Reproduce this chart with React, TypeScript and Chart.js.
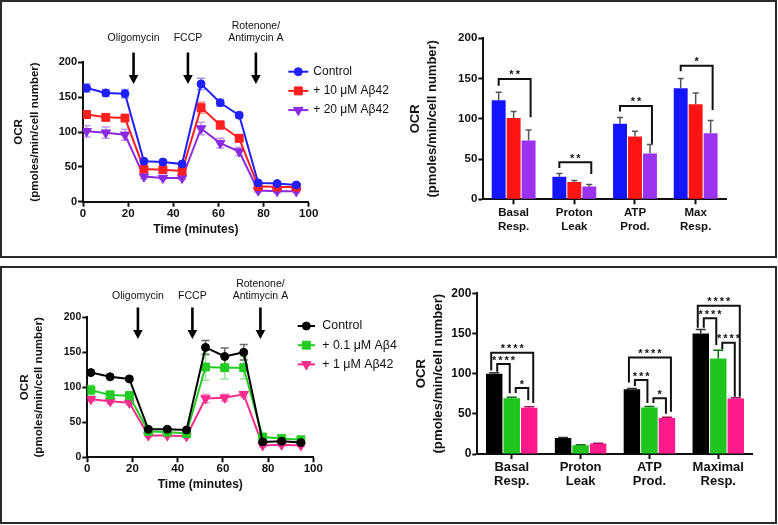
import React, { useEffect, useRef } from 'react';
import { Chart, registerables } from 'chart.js';
import { drawPoint } from 'chart.js/helpers';

Chart.register(...registerables);

const FONT = "'Liberation Sans', Arial, Helvetica, sans-serif";
const INK = '#111';
Chart.defaults.font.family = FONT;
Chart.defaults.color = INK;

// ---------------- shared axis data ----------------
const timeMinutes = [1.6, 10.1, 18.6, 27.0, 35.4, 43.9, 52.3, 60.8, 69.2, 77.6, 86.0, 94.5];
const timeTicks = [0, 20, 40, 60, 80, 100];
const ocrTicks = [0, 50, 100, 150, 200];
const injections = [22.4, 46.5, 76.6];
const injectionLabels = [['Oligomycin'], ['FCCP'], ['Rotenone/', 'Antimycin A']];
const ocrTitle = ['OCR', '(pmoles/min/cell number)'];

// ---------------- top-left: trace ----------------
const topSeriesLabels = ['Control', '+ 10 μM Aβ42', '+ 20 μM Aβ42'];
const topControl = [163, 156, 155, 58, 57, 54, 169, 142, 124, 27, 26, 24];
const topControlErr = [6, 5, 6, 2, 2, 2, 8, 5, 4, 2, 1.5, 1.5];
const top10uM = [125, 121, 120, 47, 46, 44, 135, 110, 91, 22, 21, 21];
const top10uMErr = [5, 4, 4, 3, 3, 3, 8, 6, 5, 2, 1.5, 1.5];
const top20uM = [101, 99, 96, 36, 34, 34, 105, 84, 72, 16, 15, 15];
const top20uMErr = [8, 8, 8, 3, 2, 2, 9, 7, 6, 2, 2, 2];

// ---------------- top-right: bars ----------------
const topCategories = [['Basal', 'Resp.'], ['Proton', 'Leak'], ['ATP', 'Prod.'], ['Max', 'Resp.']];
const topBarControl = [123, 28, 94, 138];
const topBarControlErr = [10, 4, 7.5, 12];
const topBar10uM = [101, 21.5, 78, 118];
const topBar10uMErr = [8, 2, 6.5, 14];
const topBar20uM = [73, 16, 57, 82];
const topBar20uMErr = [13, 2.5, 11, 16];
const topBrackets = [
  { cat: 0, from: 0, to: 2, top: 149.5, left: 141, right: 102, text: '**' },
  { cat: 1, from: 0, to: 2, top: 46, left: 39, right: 31.5, text: '**' },
  { cat: 2, from: 0, to: 2, top: 116, left: 109, right: 69, text: '**' },
  { cat: 3, from: 0, to: 2, top: 166, left: 159, right: 111, text: '*' },
];

// ---------------- bottom-left: trace ----------------
const botSeriesLabels = ['Control', '+ 0.1 μM Aβ4', '+ 1 μM Aβ42'];
const botControl = [121, 115, 112, 40, 40, 39, 157, 144, 150, 22, 23, 21];
const botControlErr = [2, 2, 2, 2, 2, 2, 10, 12, 11, 2, 2, 2];
const bot01uM = [96, 89, 88, 37, 36, 34, 129, 128, 128, 29, 27, 25];
const bot01uMErr = [7, 6, 6, 3, 3, 3, 19, 16, 16, 3, 2, 2];
const bot1uM = [83, 80, 78, 31, 31, 30, 84, 85, 90, 17, 18, 17];
const bot1uMErr = [3, 3, 3, 2, 2, 2, 6, 5, 4, 2, 2, 2];

// ---------------- bottom-right: bars ----------------
const botCategories = [['Basal', 'Resp.'], ['Proton', 'Leak'], ['ATP', 'Prod.'], ['Maximal', 'Resp.']];
const botBarControl = [100, 20, 80.5, 150];
const botBarControlErr = [1, 0.5, 1, 5];
const botBar01uM = [69.5, 11, 58, 119];
const botBar01uMErr = [1, 0.5, 1, 10];
const botBar1uM = [57.7, 13, 44.8, 69];
const botBar1uMErr = [1, 0.5, 1, 1];
const botBrackets = [
  { cat: 0, from: 0, to: 2, top: 126, left: 104, right: 63.5, text: '****' },
  { cat: 0, from: 0, to: 1, top: 112, left: 102.5, right: 75.5, text: '****' },
  { cat: 0, from: 1, to: 2, top: 82, left: 76, right: 67, text: '*' },
  { cat: 2, from: 0, to: 2, top: 120, left: 89, right: 52.6, text: '****' },
  { cat: 2, from: 0, to: 1, top: 92, left: 84.6, right: 63.5, text: '***' },
  { cat: 2, from: 1, to: 2, top: 69.3, left: 63.5, right: 50, text: '*' },
  { cat: 3, from: 0, to: 2, top: 184.6, left: 157, right: 71.3, text: '****' },
  { cat: 3, from: 0, to: 1, top: 169, left: 157, right: 135.7, text: '****' },
  { cat: 3, from: 1, to: 2, top: 138.5, left: 130.3, right: 71.3, text: '****' },
];

// ---------------- plugins ----------------
const lineErrorPlugin = {
  id: 'lineErrors',
  beforeDatasetsDraw(chart: any) {
    const { ctx } = chart;
    const yS = chart.scales.y;
    chart.data.datasets.forEach((ds: any, i: number) => {
      if (!ds.errors) return;
      const meta = chart.getDatasetMeta(i);
      ctx.save();
      ctx.strokeStyle = ds.errorColor;
      ctx.lineWidth = 1.5;
      const cap = 4;
      meta.data.forEach((pt: any, j: number) => {
        const v = ds.data[j].y;
        const e = ds.errors[j];
        const y1 = yS.getPixelForValue(v + e);
        const y2 = yS.getPixelForValue(v - e);
        ctx.beginPath();
        ctx.moveTo(pt.x, y1); ctx.lineTo(pt.x, y2);
        ctx.moveTo(pt.x - cap, y1); ctx.lineTo(pt.x + cap, y1);
        ctx.moveTo(pt.x - cap, y2); ctx.lineTo(pt.x + cap, y2);
        ctx.stroke();
      });
      ctx.restore();
    });
  },
};

function makeBarErrorPlugin(cap: number) {
  return {
    id: 'barErrors',
    afterDatasetsDraw(chart: any) {
      const { ctx } = chart;
      const yS = chart.scales.y;
      chart.data.datasets.forEach((ds: any, i: number) => {
        if (!ds.errors) return;
        const meta = chart.getDatasetMeta(i);
        ctx.save();
        ctx.strokeStyle = ds.errorColor;
        ctx.lineWidth = 1.5;
        meta.data.forEach((bar: any, j: number) => {
          const yTop = yS.getPixelForValue(ds.data[j] + ds.errors[j]);
          ctx.beginPath();
          ctx.moveTo(bar.x, bar.y); ctx.lineTo(bar.x, yTop);
          ctx.moveTo(bar.x - cap, yTop); ctx.lineTo(bar.x + cap, yTop);
          ctx.stroke();
        });
        ctx.restore();
      });
    },
  };
}

function makeBracketPlugin(items: any[], offsets: any) {
  return {
    id: 'brackets',
    afterDatasetsDraw(chart: any) {
      const { ctx } = chart;
      const yS = chart.scales.y;
      ctx.save();
      ctx.strokeStyle = INK;
      ctx.fillStyle = INK;
      ctx.lineWidth = 2;
      ctx.font = `bold 11px ${FONT}`;
      (ctx as any).letterSpacing = '2px';
      ctx.textAlign = 'center';
      ctx.textBaseline = 'alphabetic';
      items.forEach((b) => {
        const key = b.from === 0 && b.to === 2 ? 'outer' : b.from === 0 ? 'near' : 'far';
        const off = offsets[key];
        const xa = chart.getDatasetMeta(b.from).data[b.cat].x + off[0];
        const xb = chart.getDatasetMeta(b.to).data[b.cat].x + off[1];
        const yt = yS.getPixelForValue(b.top);
        ctx.beginPath();
        ctx.moveTo(xa, yS.getPixelForValue(b.left));
        ctx.lineTo(xa, yt);
        ctx.lineTo(xb, yt);
        ctx.lineTo(xb, yS.getPixelForValue(b.right));
        ctx.stroke();
        ctx.fillText(b.text, (xa + xb) / 2 + 1, yt - 0.5);
      });
      ctx.restore();
    },
  };
}

function makeLegendPlugin(cfg: any) {
  return {
    id: 'seriesLegend',
    afterDraw(chart: any) {
      const { ctx, chartArea: ca } = chart;
      chart.data.datasets.forEach((ds: any, i: number) => {
        const y = ca.top + cfg.dy + i * cfg.gap;
        const x0 = ca.right + cfg.dx;
        ctx.save();
        ctx.strokeStyle = ds.borderColor;
        ctx.lineWidth = 2;
        ctx.beginPath();
        ctx.moveTo(x0, y);
        ctx.lineTo(x0 + cfg.lineLen, y);
        ctx.stroke();
        ctx.fillStyle = ds.pointBackgroundColor;
        ctx.strokeStyle = ds.borderColor;
        ctx.lineWidth = 1;
        drawPoint(ctx, { pointStyle: ds.pointStyle, radius: ds.pointRadius, rotation: ds.pointRotation || 0, borderWidth: 1 } as any, x0 + cfg.lineLen / 2, y);
        ctx.fillStyle = INK;
        ctx.font = `${cfg.fontSize}px ${FONT}`;
        ctx.textAlign = 'left';
        ctx.textBaseline = 'middle';
        ctx.fillText(ds.label, ca.right + cfg.textDx, y);
        ctx.restore();
      });
    },
  };
}

function makeInjectionPlugin(cfg: any) {
  return {
    id: 'injections',
    afterDraw(chart: any) {
      const { ctx } = chart;
      const xS = chart.scales.x;
      const yS = chart.scales.y;
      injections.forEach((t, i) => {
        const x = xS.getPixelForValue(t);
        const y0 = yS.getPixelForValue(cfg.yStart);
        const y1 = yS.getPixelForValue(cfg.yEnd);
        ctx.save();
        ctx.strokeStyle = '#000';
        ctx.lineWidth = 2.6;
        ctx.beginPath();
        ctx.moveTo(x, y0);
        ctx.lineTo(x, y1 - 8);
        ctx.stroke();
        ctx.fillStyle = '#000';
        ctx.beginPath();
        ctx.moveTo(x - 4.8, y1 - 9);
        ctx.lineTo(x + 4.8, y1 - 9);
        ctx.lineTo(x, y1);
        ctx.closePath();
        ctx.fill();
        const lines = injectionLabels[i];
        ctx.font = `${cfg.fontSize}px ${FONT}`;
        ctx.textAlign = 'center';
        ctx.textBaseline = 'middle';
        ctx.fillStyle = INK;
        lines.forEach((ln, k) => {
          ctx.fillText(ln, x, y0 - cfg.labelGap - (lines.length - 1 - k) * cfg.lineGap);
        });
        ctx.restore();
      });
    },
  };
}

// ---------------- config builders ----------------
function axisCommon() {
  return {
    border: { display: true, color: INK, width: 2 },
    grid: { display: true, drawOnChartArea: false, drawTicks: true, tickLength: 5, tickWidth: 2, tickColor: INK, color: INK },
  };
}

function lineSeries(label: string, values: number[], errors: number[], color: string, errColor: string, style: string, radius: number, rotation: number) {
  return {
    label,
    data: timeMinutes.map((t, i) => ({ x: t, y: values[i] })),
    errors,
    errorColor: errColor,
    borderColor: color,
    backgroundColor: color,
    pointBackgroundColor: color,
    pointBorderColor: color,
    pointBorderWidth: 1,
    pointStyle: style,
    pointRadius: radius,
    pointRotation: rotation,
    borderWidth: 2,
    tension: 0,
  };
}

function lineConfig(p: any) {
  return {
    type: 'line',
    data: { datasets: p.datasets },
    options: {
      responsive: false,
      animation: false,
      layout: { padding: p.padding },
      plugins: { legend: { display: false }, tooltip: { enabled: false } },
      scales: {
        x: {
          type: 'linear', min: 0, max: 100,
          ...axisCommon(),
          afterBuildTicks: (s: any) => { s.ticks = timeTicks.map((v) => ({ value: v })); },
          afterFit: (s: any) => { s.height = p.xHeight; },
          ticks: { font: { size: 11.5, weight: 'bold' }, padding: 0, maxRotation: 0, autoSkip: false, color: INK },
          title: { display: true, text: 'Time (minutes)', font: { size: 12, weight: 'bold', lineHeight: 1.2 }, padding: 0, color: INK },
        },
        y: {
          min: 0, max: 200,
          ...axisCommon(),
          afterBuildTicks: (s: any) => { s.ticks = ocrTicks.map((v) => ({ value: v })); },
          afterFit: (s: any) => { s.width = p.yWidth; },
          ticks: { font: { size: p.yTickSize, weight: 'bold' }, padding: 1, color: INK },
          title: { display: true, text: ocrTitle, font: { size: p.yTitleSize, weight: 'bold', lineHeight: p.yTitleLH }, padding: { top: p.yTitlePad, bottom: 0 }, color: INK },
        },
      },
    },
    plugins: [lineErrorPlugin, makeInjectionPlugin(p.arrows), makeLegendPlugin(p.legend)],
  };
}

function barConfig(p: any) {
  return {
    type: 'bar',
    data: { labels: p.labels, datasets: p.datasets },
    options: {
      responsive: false,
      animation: false,
      layout: { padding: p.padding },
      datasets: { bar: { categoryPercentage: p.catPct, barPercentage: p.barPct } },
      plugins: { legend: { display: false }, tooltip: { enabled: false } },
      scales: {
        x: {
          ...axisCommon(),
          grid: { ...axisCommon().grid, offset: false },
          afterFit: (s: any) => { s.height = p.xHeight; },
          ticks: { font: { size: p.xTickSize, weight: 'bold', lineHeight: p.xTickLH }, padding: p.xTickPad, maxRotation: 0, autoSkip: false, color: INK },
        },
        y: {
          min: 0, max: 200,
          ...axisCommon(),
          afterBuildTicks: (s: any) => { s.ticks = ocrTicks.map((v) => ({ value: v })); },
          afterFit: (s: any) => { s.width = p.yWidth; },
          ticks: { font: { size: p.yTickSize, weight: 'bold' }, padding: 1, color: INK },
          title: { display: true, text: ocrTitle, font: { size: p.yTitleSize, weight: 'bold', lineHeight: p.yTitleLH }, padding: { top: p.yTitlePad, bottom: 0 }, color: INK },
        },
      },
    },
    plugins: [makeBarErrorPlugin(p.cap), makeBracketPlugin(p.brackets, p.offsets)],
  };
}

const buildTopLeft = () => lineConfig({
  datasets: [
    lineSeries(topSeriesLabels[0], topControl, topControlErr, '#1f1fff', 'rgba(60,60,255,0.55)', 'circle', 4, 0),
    lineSeries(topSeriesLabels[1], top10uM, top10uMErr, '#ff1f1f', 'rgba(255,60,60,0.55)', 'rect', 5.6, 0),
    lineSeries(topSeriesLabels[2], top20uM, top20uMErr, '#8a2be2', 'rgba(150,70,230,0.55)', 'triangle', 5.5, 180),
  ],
  padding: { left: 5, top: 60.3, right: 91.3, bottom: 18.8 },
  xHeight: 35.5, yWidth: 76,
  yTickSize: 11, yTitleSize: 11.5, yTitleLH: 1.4, yTitlePad: 3.95,
  arrows: { yStart: 214, yEnd: 169, labelGap: 14, lineGap: 12, fontSize: 10.5 },
  legend: { dx: -20.4, lineLen: 20, textDx: 4.6, dy: 9.4, gap: 19.2, fontSize: 12 },
});

const buildBottomLeft = () => lineConfig({
  datasets: [
    lineSeries(botSeriesLabels[0], botControl, botControlErr, '#000000', 'rgba(0,0,0,0.6)', 'circle', 4, 0),
    lineSeries(botSeriesLabels[1], bot01uM, bot01uMErr, '#22cc22', 'rgba(60,200,60,0.5)', 'rect', 5.6, 0),
    lineSeries(botSeriesLabels[2], bot1uM, bot1uMErr, '#f42c8c', 'rgba(244,60,150,0.55)', 'triangle', 5.5, 180),
  ],
  padding: { left: 5, top: 49.3, right: 86.7, bottom: 30.5 },
  xHeight: 34.2, yWidth: 80.3,
  yTickSize: 10.5, yTitleSize: 11.6, yTitleLH: 1.27, yTitlePad: 9.95,
  arrows: { yStart: 214, yEnd: 169, labelGap: 11.5, lineGap: 11.7, fontSize: 10.5 },
  legend: { dx: -15.6, lineLen: 17.3, textDx: 9, dy: 8.7, gap: 19.2, fontSize: 12.4 },
});

function barSeries(label: string, values: number[], errors: number[], color: string, errColor: string) {
  return { label, data: values, errors, errorColor: errColor, backgroundColor: color, borderWidth: 0 };
}

const buildTopRight = () => barConfig({
  labels: topCategories,
  datasets: [
    barSeries(topSeriesLabels[0], topBarControl, topBarControlErr, '#1414ff', '#555'),
    barSeries(topSeriesLabels[1], topBar10uM, topBar10uMErr, '#ff1414', '#555'),
    barSeries(topSeriesLabels[2], topBar20uM, topBar20uMErr, '#9b32f0', '#555'),
  ],
  padding: { left: 4, top: 36.3, right: 48, bottom: 16.7 },
  catPct: 0.74, barPct: 0.93,
  xHeight: 40, yWidth: 79.3,
  xTickSize: 11.5, xTickLH: 1.2, xTickPad: 1.5,
  yTickSize: 11.5, yTitleSize: 13, yTitleLH: 1.36, yTitlePad: 2.15,
  cap: 3,
  brackets: topBrackets,
  offsets: { outer: [0, 2], near: [0, 0], far: [0, 0] },
});

const buildBottomRight = () => barConfig({
  labels: botCategories,
  datasets: [
    barSeries(botSeriesLabels[0], botBarControl, botBarControlErr, '#000000', '#333'),
    barSeries(botSeriesLabels[1], botBar01uM, botBar01uMErr, '#1fc41f', '#0b6e0b'),
    barSeries(botSeriesLabels[2], botBar1uM, botBar1uMErr, '#ff1a8c', '#a0105a'),
  ],
  padding: { left: 4, top: 25.3, right: 21.3, bottom: 23 },
  catPct: 0.763, barPct: 0.94,
  xHeight: 45, yWidth: 73.3,
  xTickSize: 13, xTickLH: 1.1, xTickPad: 1.15,
  yTickSize: 12, yTitleSize: 13.2, yTitleLH: 1.26, yTitlePad: 9.4,
  cap: 5,
  brackets: botBrackets,
  offsets: { outer: [-3, 4], near: [3, -2], far: [4, -1] },
});

function ChartCanvas({ left, top, width, height, build }: any) {
  const ref = useRef<HTMLCanvasElement>(null);
  useEffect(() => {
    const chart = new Chart(ref.current as HTMLCanvasElement, build() as any);
    return () => chart.destroy();
  }, []);
  return (
    <canvas
      ref={ref}
      width={width}
      height={height}
      style={{ position: 'absolute', left, top, width, height, display: 'block' }}
    />
  );
}

const panelStyle = (top: number): React.CSSProperties => ({
  position: 'absolute',
  left: 0,
  top,
  width: 777,
  height: 258,
  border: '2px solid #2a2a2a',
  boxSizing: 'border-box',
  background: '#fff',
});

export default function App() {
  return (
    <div style={{ position: 'absolute', left: 0, top: 0, width: 778, height: 525, background: '#fff', overflow: 'hidden' }}>
      <div style={panelStyle(0)} />
      <div style={panelStyle(266)} />
      <ChartCanvas left={2} top={2} width={398} height={254} build={buildTopLeft} />
      <ChartCanvas left={400} top={2} width={374} height={254} build={buildTopRight} />
      <ChartCanvas left={2} top={268} width={398} height={254} build={buildBottomLeft} />
      <ChartCanvas left={400} top={268} width={374} height={254} build={buildBottomRight} />
    </div>
  );
}
